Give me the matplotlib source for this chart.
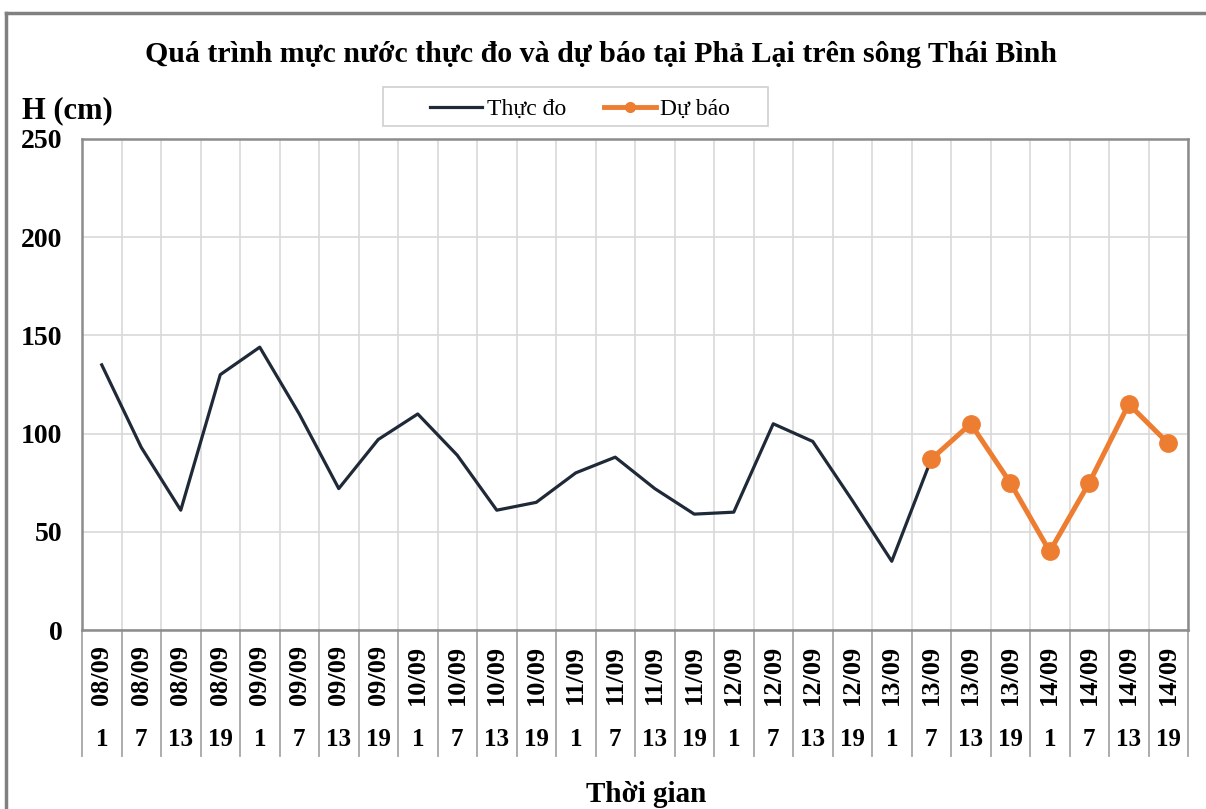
import matplotlib
matplotlib.use("Agg")
import matplotlib.pyplot as plt
from matplotlib.lines import Line2D
from matplotlib.patches import Rectangle
import numpy as np

plt.rcParams['font.family'] = ['Liberation Serif', 'DejaVu Serif']

dates = ["08/09"] * 4 + ["09/09"] * 4 + ["10/09"] * 4 + ["11/09"] * 4 + ["12/09"] * 4 + ["13/09"] * 4 + ["14/09"] * 4
hours = ["1", "7", "13", "19"] * 7

observed = [135, 93, 61, 130, 144, 110, 72, 97, 110, 89, 61, 65, 80, 88, 72, 59, 60, 105, 96, 66, 35, 87]
forecast = [87, 105, 75, 40, 75, 115, 95]
forecast_start = 21

title = "Quá trình mực nước thực đo và dự báo tại Phả Lại trên sông Thái Bình"
ylabel = "H (cm)"
xlabel = "Thời gian"
legend_labels = ["Thực đo", "Dự báo"]

W, H = 1206, 809
fig = plt.figure(figsize=(W / 100, H / 100), dpi=100)

def fx(px):
    return px / W

def fy(py):
    return 1 - py / H

ax = fig.add_axes([fx(82), fy(630), fx(1188) - fx(82), fy(139) - fy(630)])

n = len(dates)
x_obs = np.arange(len(observed))
x_fc = np.arange(forecast_start, forecast_start + len(forecast))

l1, = ax.plot(x_obs, observed, color="#1f2937", lw=2.3, zorder=3)
l2, = ax.plot(x_fc, forecast, color="#ed7d31", lw=3.6, marker="o", ms=12.5, zorder=4)

ax.set_xlim(-0.5, n - 0.5)
ax.set_ylim(0, 250)
ax.set_yticks([0, 50, 100, 150, 200, 250])
ax.set_xticks(np.arange(-0.5, n, 1.0))
ax.set_xticklabels([])
ax.tick_params(axis="both", length=0)
ax.tick_params(axis="y", pad=14)
for lab in ax.get_yticklabels():
    lab.set_fontsize(20)
    lab.set_fontweight("bold")
ax.grid(True, color="#d9d9d9", lw=1.2)
ax.set_axisbelow(True)
for s in ax.spines.values():
    s.set_color("#8c8c8c")
    s.set_linewidth(1.8)

# multi-level category labels
trans = ax.get_xaxis_transform()
bottom_sep = fy(756)
ax_bottom = fy(630)
ax_h = fy(139) - fy(630)
y_sep_axes = (bottom_sep - ax_bottom) / ax_h
y_date = (fy(675) - ax_bottom) / ax_h
y_hour = (fy(740) - ax_bottom) / ax_h
for i in range(n):
    ax.text(i, y_date, dates[i], transform=trans, rotation=90, ha="center", va="center",
            fontsize=19, fontweight="bold")
    ax.text(i, y_hour, hours[i], transform=trans, ha="center", va="center",
            fontsize=18, fontweight="bold")
for k in range(n + 1):
    ax.add_line(Line2D([k - 0.5, k - 0.5], [0, y_sep_axes], transform=trans,
                       color="#a6a6a6", lw=1.3, clip_on=False))

# texts
fig.text(fx(601), fy(54), title, ha="center", va="center", fontsize=21.5, fontweight="bold")
fig.text(fx(22), fy(111), ylabel, ha="left", va="center", fontsize=22, fontweight="bold")
fig.text(fx(646), fy(795), xlabel, ha="center", va="center", fontsize=21, fontweight="bold")

# legend
fig.add_artist(Rectangle((fx(383), fy(126)), fx(768) - fx(383), fy(87) - fy(126),
                         transform=fig.transFigure, facecolor="white", edgecolor="#d0d0d0", lw=1.2))
leg = fig.legend([l1, l2], legend_labels, loc="center", bbox_to_anchor=(fx(580), fy(109.5)),
                 ncol=2, frameon=False, fontsize=17, handlelength=2.2,
                 columnspacing=1.6, borderpad=0.3, handletextpad=0.2)
leg.legend_handles[1].set_markersize(7)
leg.legend_handles[1].set_linewidth(3.5)

# outer border (top and left visible)
fig.add_artist(Line2D([fx(6), fx(6)], [fy(13), 0], transform=fig.transFigure, color="#808080", lw=2.5))
fig.add_artist(Line2D([fx(6), 1], [fy(13), fy(13)], transform=fig.transFigure, color="#808080", lw=2.5))

fig.savefig("out.png", dpi=100, facecolor="white")
